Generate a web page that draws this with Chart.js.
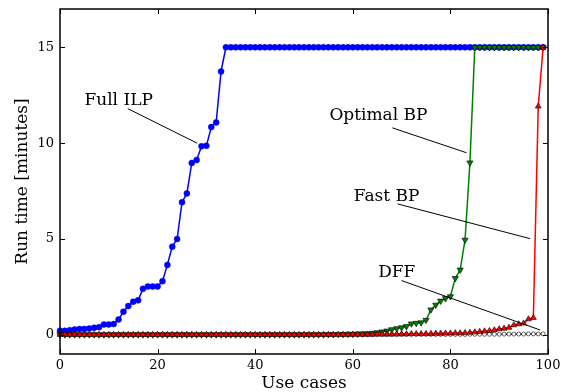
<!DOCTYPE html>
<html>
<head>
<meta charset="utf-8">
<script src="https://cdn.jsdelivr.net/npm/chart.js@4/dist/chart.umd.min.js"></script>
<style>
  html, body { margin: 0; padding: 0; background: #fff; }
  #wrap { width: 569px; height: 392px; }
</style>
</head>
<body>
<div id="wrap"><canvas id="chart" width="569" height="392"></canvas></div>
<script>
// run time in minutes per use case (index = use case number)
const fullIlp = [
  0.21, 0.21, 0.24, 0.28, 0.30, 0.31, 0.33, 0.37, 0.40, 0.54,
  0.54, 0.56, 0.80, 1.21, 1.50, 1.73, 1.80, 2.40, 2.52, 2.52,
  2.52, 2.80, 3.65, 4.60, 5.00, 6.92, 7.38, 8.97, 9.12, 9.84,
  9.86, 10.84, 11.08, 13.74, 15, 15, 15, 15, 15, 15,
  15, 15, 15, 15, 15, 15, 15, 15, 15, 15,
  15, 15, 15, 15, 15, 15, 15, 15, 15, 15,
  15, 15, 15, 15, 15, 15, 15, 15, 15, 15,
  15, 15, 15, 15, 15, 15, 15, 15, 15, 15,
  15, 15, 15, 15, 15, 15, 15, 15, 15, 15,
  15, 15, 15, 15, 15, 15, 15, 15, 15, 15
];
const optimalBp = [
  0.01, 0.01, 0.01, 0.01, 0.01, 0.01, 0.01, 0.01, 0.01, 0.01,
  0.01, 0.01, 0.01, 0.01, 0.01, 0.01, 0.01, 0.01, 0.01, 0.01,
  0.01, 0.01, 0.01, 0.01, 0.01, 0.01, 0.01, 0.01, 0.01, 0.01,
  0.01, 0.01, 0.01, 0.01, 0.01, 0.01, 0.01, 0.01, 0.01, 0.01,
  0.01, 0.01, 0.01, 0.01, 0.01, 0.01, 0.01, 0.01, 0.01, 0.01,
  0.01, 0.01, 0.01, 0.01, 0.01, 0.02, 0.02, 0.03, 0.03, 0.04,
  0.04, 0.05, 0.06, 0.07, 0.09, 0.12, 0.16, 0.21, 0.28, 0.33,
  0.38, 0.44, 0.58, 0.61, 0.64, 0.77, 1.31, 1.56, 1.77, 1.90,
  2.00, 2.95, 3.39, 4.95, 8.98, 15, 15, 15, 15, 15,
  15, 15, 15, 15, 15, 15, 15, 15, 15, 15
];
const fastBp = [
  0.01, 0.01, 0.01, 0.01, 0.01, 0.01, 0.01, 0.01, 0.01, 0.01,
  0.01, 0.01, 0.01, 0.01, 0.01, 0.01, 0.01, 0.01, 0.01, 0.01,
  0.01, 0.01, 0.01, 0.01, 0.01, 0.01, 0.01, 0.01, 0.01, 0.01,
  0.01, 0.01, 0.01, 0.01, 0.01, 0.01, 0.01, 0.01, 0.01, 0.01,
  0.01, 0.01, 0.01, 0.01, 0.01, 0.01, 0.01, 0.01, 0.01, 0.01,
  0.01, 0.01, 0.01, 0.01, 0.01, 0.01, 0.01, 0.01, 0.01, 0.01,
  0.02, 0.02, 0.02, 0.02, 0.02, 0.03, 0.03, 0.03, 0.03, 0.04,
  0.04, 0.04, 0.05, 0.05, 0.05, 0.06, 0.06, 0.07, 0.07, 0.08,
  0.08, 0.09, 0.09, 0.10, 0.12, 0.14, 0.16, 0.19, 0.21, 0.25,
  0.30, 0.33, 0.38, 0.51, 0.56, 0.60, 0.82, 0.89, 11.92, 15
];
const dff = [
  0.00, 0.00, 0.00, 0.00, 0.00, 0.00, 0.00, 0.00, 0.00, 0.00,
  0.00, 0.00, 0.00, 0.00, 0.00, 0.00, 0.00, 0.00, 0.00, 0.00,
  0.00, 0.00, 0.00, 0.00, 0.00, 0.00, 0.00, 0.00, 0.00, 0.00,
  0.00, 0.00, 0.00, 0.00, 0.00, 0.00, 0.00, 0.00, 0.00, 0.00,
  0.00, 0.00, 0.00, 0.00, 0.00, 0.00, 0.00, 0.00, 0.00, 0.00,
  0.01, 0.01, 0.01, 0.01, 0.01, 0.01, 0.01, 0.01, 0.01, 0.01,
  0.01, 0.01, 0.01, 0.01, 0.01, 0.01, 0.01, 0.01, 0.01, 0.01,
  0.02, 0.02, 0.02, 0.02, 0.02, 0.02, 0.02, 0.02, 0.02, 0.02,
  0.02, 0.02, 0.02, 0.02, 0.03, 0.03, 0.03, 0.03, 0.03, 0.03,
  0.03, 0.04, 0.04, 0.04, 0.04, 0.04, 0.05, 0.05, 0.05, 0.05
];

const xTicks = [0, 20, 40, 60, 80, 100];
const yTicks = [0, 5, 10, 15];

// label text, text anchor (data), leader line from -> to (data)
const labels = [
  { text: 'Full ILP',   at: [5, 12.0],    from: [13.9, 11.8], to: [28.1, 10.0] },
  { text: 'Optimal BP', at: [55.2, 11.2], from: [68.1, 10.8], to: [83.3, 9.5] },
  { text: 'Fast BP',    at: [60.2, 7.0],  from: [69.2, 6.83], to: [96.3, 5.02] },
  { text: 'DFF',        at: [65.2, 3.0],  from: [70.0, 2.83], to: [98.4, 0.25] }
];

const FONT = "'DejaVu Serif', 'Liberation Serif', serif";

function toPoints(arr) {
  return arr.map((v, i) => ({ x: i, y: v }));
}

const frame = {
  id: 'frame',
  afterDatasetsDraw(chart) {
    const { ctx, chartArea: a, scales } = chart;
    ctx.save();
    // leader lines and text
    ctx.strokeStyle = '#000';
    ctx.lineWidth = 1;
    ctx.fillStyle = '#000';
    ctx.font = '17px ' + FONT;
    ctx.textBaseline = 'alphabetic';
    ctx.textAlign = 'left';
    labels.forEach(l => {
      ctx.beginPath();
      ctx.moveTo(scales.x.getPixelForValue(l.from[0]), scales.y.getPixelForValue(l.from[1]));
      ctx.lineTo(scales.x.getPixelForValue(l.to[0]), scales.y.getPixelForValue(l.to[1]));
      ctx.stroke();
      ctx.fillText(l.text, scales.x.getPixelForValue(l.at[0]), scales.y.getPixelForValue(l.at[1]));
    });

    // box
    ctx.lineWidth = 1.5;
    ctx.strokeRect(a.left, a.top, a.right - a.left, a.bottom - a.top);

    // inward ticks on all sides
    ctx.lineWidth = 1;
    const len = 5;
    xTicks.forEach(v => {
      const px = Math.round(scales.x.getPixelForValue(v)) + 0.5;
      ctx.beginPath();
      ctx.moveTo(px, a.bottom); ctx.lineTo(px, a.bottom - len);
      ctx.moveTo(px, a.top); ctx.lineTo(px, a.top + len);
      ctx.stroke();
    });
    yTicks.forEach(v => {
      const py = Math.round(scales.y.getPixelForValue(v)) + 0.5;
      ctx.beginPath();
      ctx.moveTo(a.left, py); ctx.lineTo(a.left + len, py);
      ctx.moveTo(a.right, py); ctx.lineTo(a.right - len, py);
      ctx.stroke();
    });
    ctx.restore();
  }
};

new Chart(document.getElementById('chart'), {
  type: 'line',
  data: {
    datasets: [
      {
        label: 'Full ILP',
        data: toPoints(fullIlp),
        borderColor: '#0000ff',
        backgroundColor: '#0000ff',
        borderWidth: 1.5,
        pointStyle: 'circle',
        pointRadius: 3,
        pointBorderWidth: 0.5,
        pointBorderColor: '#0000ff',
        order: 3
      },
      {
        label: 'Optimal BP',
        data: toPoints(optimalBp),
        borderColor: '#008000',
        backgroundColor: '#008000',
        borderWidth: 1.5,
        pointStyle: 'triangle',
        pointRotation: 180,
        pointRadius: 3.6,
        pointBorderWidth: 0.6,
        pointBorderColor: '#000',
        order: 2
      },
      {
        label: 'Fast BP',
        data: toPoints(fastBp),
        borderColor: '#ff0000',
        backgroundColor: '#ff0000',
        borderWidth: 1.5,
        pointStyle: 'triangle',
        pointRadius: 3.4,
        pointBorderWidth: 0.6,
        pointBorderColor: '#000',
        order: 1
      },
      {
        label: 'DFF',
        data: toPoints(dff),
        borderColor: '#000',
        backgroundColor: '#fff',
        borderWidth: 1.2,
        pointStyle: 'circle',
        pointRadius: 2,
        pointBorderWidth: 0.6,
        pointBorderColor: '#000',
        order: 4
      }
    ]
  },
  options: {
    responsive: false,
    animation: false,
    clip: false,
    layout: { padding: { top: 9, right: 21, left: 0, bottom: 0 } },
    plugins: {
      legend: { display: false },
      tooltip: { enabled: false }
    },
    scales: {
      x: {
        type: 'linear',
        min: 0,
        max: 100,
        afterFit(s) { s.height = 38; s.paddingLeft = 0; s.paddingRight = 0; },
        afterBuildTicks(s) { s.ticks = xTicks.map(v => ({ value: v })); },
        grid: { display: false, drawTicks: false },
        border: { display: false },
        ticks: { color: '#000', padding: 4, maxRotation: 0, font: { family: FONT, size: 13 } },
        title: {
          display: true,
          text: 'Use cases',
          color: '#000',
          padding: { top: 0, bottom: 0 },
          font: { family: FONT, size: 17, lineHeight: 1.0 }
        }
      },
      y: {
        type: 'linear',
        min: -1,
        max: 17,
        afterFit(s) { s.width = 60; s.paddingTop = 0; s.paddingBottom = 0; },
        afterBuildTicks(s) { s.ticks = yTicks.map(v => ({ value: v })); },
        grid: { display: false, drawTicks: false },
        border: { display: false },
        ticks: { color: '#000', padding: 6, font: { family: FONT, size: 13 } },
        title: {
          display: true,
          text: 'Run time [minutes]',
          color: '#000',
          padding: { top: 12, bottom: 0 },
          font: { family: FONT, size: 17, lineHeight: 1.2 }
        }
      }
    }
  },
  plugins: [frame]
});
</script>
</body>
</html>
